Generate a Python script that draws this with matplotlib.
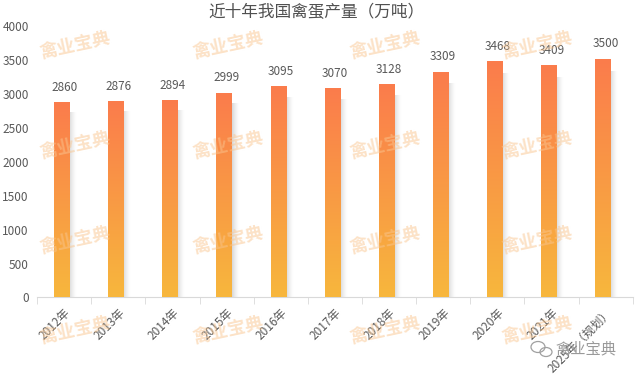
import numpy as np
import matplotlib
matplotlib.use('Agg')
import matplotlib.pyplot as plt
from matplotlib.colors import to_rgb
from matplotlib.patches import Ellipse

plt.rcParams['font.family'] = ['Noto Sans CJK SC', 'DejaVu Sans']

years = ['2012年', '2013年', '2014年', '2015年', '2016年', '2017年',
         '2018年', '2019年', '2020年', '2021年', '2025年（规划）']
output = [2860, 2876, 2894, 2999, 3095, 3070, 3128, 3309, 3468, 3409, 3500]

top_col = np.array(to_rgb('#FB7C4C'))
bot_col = np.array(to_rgb('#F7B73D'))

fig = plt.figure(figsize=(6.41, 3.77), dpi=100)
ax = fig.add_axes([0.058, 0.211, 0.929, 0.72])

x = np.arange(len(years))
bars = ax.bar(x - 0.05, output, width=0.28, color='#F99A45', zorder=2)

# gradient fill + soft shadow on the right of every bar
t = np.linspace(0, 1, 200)[:, None]
grad = (top_col[None, :] * (1 - t) + bot_col[None, :] * t)[:, None, :]
s = np.linspace(0, 1, 40)[None, :]
shadow = np.zeros((1, 40, 4))
shadow[..., :3] = 0.55
shadow[..., 3] = 0.35 * (1 - s) ** 1.5
for b in bars:
    x0, w, h = b.get_x(), b.get_width(), b.get_height()
    ax.imshow(grad, extent=(x0, x0 + w, 0, h), aspect='auto', zorder=3)
    ax.imshow(shadow, extent=(x0 + w, x0 + w + 0.14, 0, h * 0.95),
              aspect='auto', zorder=1)

for xi, v in zip(x, output):
    ax.text(xi, v + 140, str(v), ha='center', va='bottom',
            fontsize=8.5, color='#595959', zorder=4)

ax.set_xlim(-0.5, len(years) - 0.5)
ax.set_ylim(0, 4000)
ax.set_yticks(np.arange(0, 4001, 500))
ax.tick_params(axis='y', length=0, labelsize=8.5, labelcolor='#595959', pad=6)

ax.set_xticks(x)
ax.set_xticklabels(years, rotation=45, ha='right', rotation_mode='anchor',
                   fontsize=8.5, color='#595959')
ax.tick_params(axis='x', which='major', length=0, pad=6)
ax.set_xticks(np.arange(-0.5, len(years)), minor=True)
ax.tick_params(axis='x', which='minor', length=5, color='#D9D9D9')

for side in ['top', 'right', 'left']:
    ax.spines[side].set_visible(False)
ax.spines['bottom'].set_color('#D9D9D9')

fig.text(0.494, 0.967, '近十年我国禽蛋产量（万吨）', ha='center',
         va='center', fontsize=12, color='#505050')

# watermarks
wm_x = [75, 228, 385, 537]
wm_y = [45, 145, 240, 330]
for yy in wm_y:
    for xx in wm_x:
        fig.text(xx / 641, 1 - yy / 377, '禽业宝典', ha='center', va='center',
                 fontsize=13, fontweight='bold', color='#F9C58F', alpha=0.5,
                 rotation=12, zorder=10)

# wechat-like mark bottom right
for cx, cy, ew, eh in [(538, 347, 14, 11), (546, 352, 12, 9)]:
    fig.patches.append(Ellipse((cx / 641, 1 - cy / 377), ew / 641, eh / 377,
                               transform=fig.transFigure, fill=False,
                               edgecolor='#A0A0A0', linewidth=0.9))
fig.text(556 / 641, 1 - 349 / 377, '禽业宝典', ha='left', va='center',
         fontsize=11, color='#9A9A9A')

fig.savefig('out.png', dpi=100)
